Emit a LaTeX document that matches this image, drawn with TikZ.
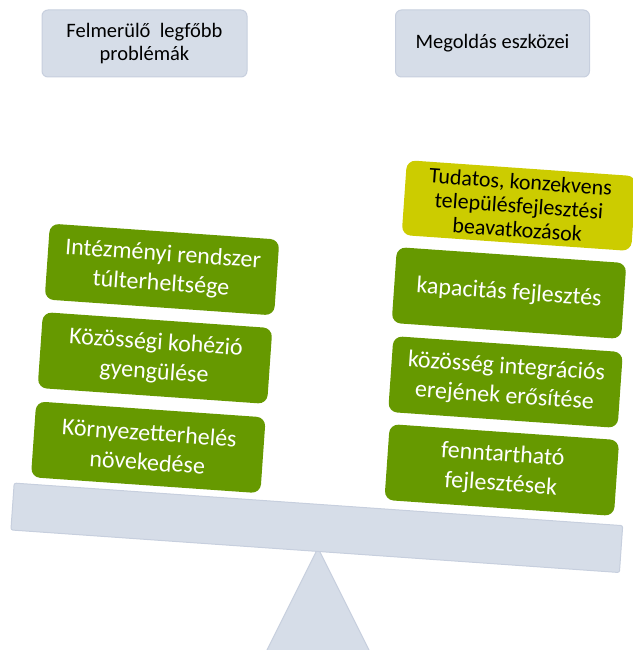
\documentclass[tikz,border=0pt]{standalone}
\usepackage{fontspec}
\setmainfont{Carlito}
\definecolor{hdrfill}{RGB}{214,221,232}
\definecolor{hdrline}{RGB}{199,207,222}
\definecolor{greenbox}{RGB}{102,153,0}
\definecolor{yellowbox}{RGB}{204,204,0}
\begin{document}
\begin{tikzpicture}[x=1pt,y=-1pt,
  hdr/.style={draw=hdrline, fill=hdrfill, rounded corners=6pt, line width=1pt,
    align=center, text=black, inner sep=0pt,
    font=\fontsize{20.5}{23.5}\selectfont},
  gbox/.style={fill=greenbox, rounded corners=9pt, rotate=-4,
    minimum width=230pt, minimum height=76pt, inner sep=0pt,
    align=center, text=white, font=\fontsize{24}{29.5}\selectfont},
  ybox/.style={gbox, fill=yellowbox, text=black, minimum height=75pt,
    font=\fontsize{22}{24}\selectfont},
  beam/.style={draw=hdrline, fill=hdrfill, line width=1pt, rounded corners=2pt,
    rotate=-4, minimum width=610pt, minimum height=47pt, inner sep=0pt},
  fulcrum/.style={draw=hdrline, fill=hdrfill, line width=1pt}
]
\useasboundingbox (0,0) rectangle (632,650);

% headers
\node[hdr, minimum width=205pt, minimum height=67pt] (h1) at (144.5,43.5)
  {Felmerülő\ \ legfőbb\\problémák};
\node[hdr, minimum width=194pt, minimum height=67pt] (h2) at (492.5,43.5)
  {Megoldás eszközei};

% fulcrum and beam
\path[fulcrum] (318,548) -- (257,670) -- (379,670) -- cycle;
\node[beam] (bm) at (316.8,527.8) {};

% left boxes
\node[gbox] (l1) at (162,269.5) {Intézményi rendszer\\túlterheltsége};
\node[gbox] (l2) at (155,358) {Közösségi kohézió\\gyengülése};
\node[gbox] (l3) at (148.3,447.3) {Környezetterhelés\\növekedése};

% right boxes
\node[ybox] (r0) at (519,205.6) {Tudatos, konzekvens\\településfejlesztési\\beavatkozások};
\node[gbox] (r1) at (509,293) {kapacitás fejlesztés};
\node[gbox] (r2) at (505.5,382) {közösség integrációs\\erejének erősítése};
\node[gbox] (r3) at (501.8,470) {fenntartható\\fejlesztések};
\end{tikzpicture}
\end{document}
